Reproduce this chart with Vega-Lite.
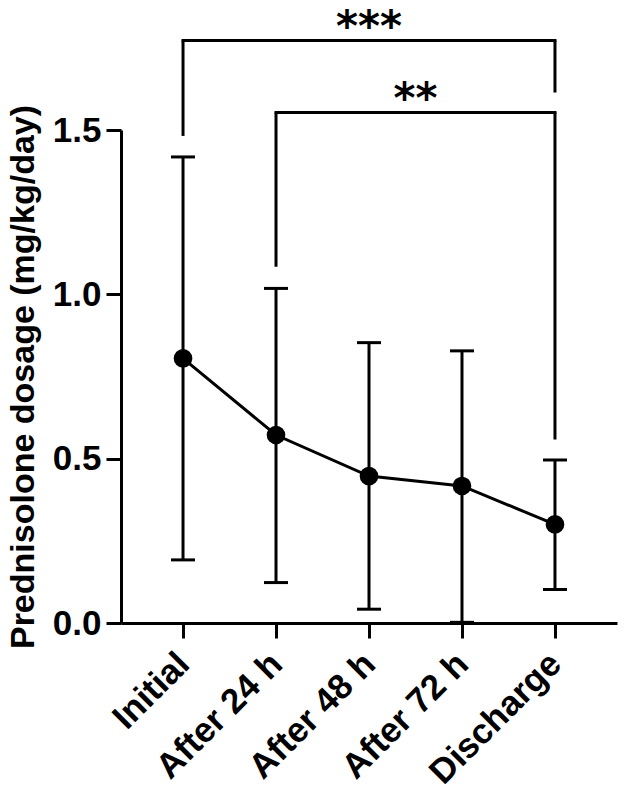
{
  "$schema": "https://vega.github.io/schema/vega-lite/v6.json",
  "autosize": {"type": "none"},
  "width": 496,
  "height": 493,
  "padding": {"left": 121, "top": 130, "right": 7, "bottom": 169},
  "background": "white",
  "config": {
    "view": {"stroke": null},
    "font": "Liberation Sans",
    "axis": {
      "domainColor": "black",
      "domainWidth": 3,
      "tickColor": "black",
      "tickWidth": 3,
      "tickSize": 15,
      "grid": false,
      "labelFont": "Liberation Sans",
      "labelFontWeight": "bold",
      "labelFontSize": 35,
      "labelColor": "black",
      "labelOverlap": false,
      "labelBound": false,
      "titleFont": "Liberation Sans",
      "titleFontWeight": "bold",
      "titleFontSize": 34,
      "titleColor": "black"
    }
  },
  "datasets": {
    "summary": [
      {"t": 1, "label": "Initial", "mean": 0.805, "lo": 0.192, "hi": 1.418},
      {"t": 2, "label": "After 24 h", "mean": 0.572, "lo": 0.123, "hi": 1.018},
      {"t": 3, "label": "After 48 h", "mean": 0.447, "lo": 0.042, "hi": 0.853},
      {"t": 4, "label": "After 72 h", "mean": 0.417, "lo": 0.002, "hi": 0.828},
      {"t": 5, "label": "Discharge", "mean": 0.300, "lo": 0.102, "hi": 0.496}
    ],
    "bars": [
      {"from": 1, "to": 5, "y": 1.772},
      {"from": 2, "to": 5, "y": 1.553}
    ],
    "legs": [
      {"t": 1, "y1": 1.482, "y2": 1.772},
      {"t": 5, "y1": 1.614, "y2": 1.772},
      {"t": 2, "y1": 1.084, "y2": 1.553},
      {"t": 5, "y1": 0.558, "y2": 1.553}
    ],
    "stars": [
      {"t": 3, "y": 1.772, "text": "***"},
      {"t": 3.5, "y": 1.553, "text": "**"}
    ]
  },
  "layer": [
    {
      "data": {"name": "summary"},
      "mark": {"type": "line", "color": "black", "strokeWidth": 3},
      "encoding": {
        "x": {
          "field": "t", "type": "quantitative",
          "scale": {"domain": [0.333, 5.667], "nice": false, "zero": false},
          "axis": {
            "values": [1, 2, 3, 4, 5],
            "labelExpr": "['', 'Initial', 'After 24 h', 'After 48 h', 'After 72 h', 'Discharge'][datum.value]",
            "labelAngle": -45,
            "labelAlign": "right",
            "labelBaseline": "middle",
            "labelPadding": 20,
            "title": null
          }
        },
        "y": {
          "field": "mean", "type": "quantitative",
          "scale": {"domain": [0, 1.5], "nice": false},
          "axis": {
            "values": [0, 0.5, 1, 1.5],
            "format": ".1f",
            "labelPadding": 5,
            "title": "Prednisolone dosage (mg/kg/day)",
            "titlePadding": 12
          }
        }
      }
    },
    {
      "data": {"name": "summary"},
      "mark": {"type": "rule", "color": "black", "strokeWidth": 3},
      "encoding": {
        "x": {"field": "t", "type": "quantitative"},
        "y": {"field": "lo", "type": "quantitative"},
        "y2": {"field": "hi"}
      }
    },
    {
      "data": {"name": "summary"},
      "mark": {"type": "tick", "color": "black", "size": 24, "thickness": 3, "orient": "horizontal", "opacity": 1},
      "encoding": {
        "x": {"field": "t", "type": "quantitative"},
        "y": {"field": "lo", "type": "quantitative"}
      }
    },
    {
      "data": {"name": "summary"},
      "mark": {"type": "tick", "color": "black", "size": 24, "thickness": 3, "orient": "horizontal", "opacity": 1},
      "encoding": {
        "x": {"field": "t", "type": "quantitative"},
        "y": {"field": "hi", "type": "quantitative"}
      }
    },
    {
      "data": {"name": "summary"},
      "mark": {"type": "point", "shape": "circle", "filled": true, "color": "black", "size": 346, "opacity": 1},
      "encoding": {
        "x": {"field": "t", "type": "quantitative"},
        "y": {"field": "mean", "type": "quantitative"}
      }
    },
    {
      "data": {"name": "bars"},
      "mark": {"type": "rule", "color": "black", "strokeWidth": 3, "strokeCap": "square"},
      "encoding": {
        "x": {"field": "from", "type": "quantitative"},
        "x2": {"field": "to"},
        "y": {"field": "y", "type": "quantitative"}
      }
    },
    {
      "data": {"name": "legs"},
      "mark": {"type": "rule", "color": "black", "strokeWidth": 3},
      "encoding": {
        "x": {"field": "t", "type": "quantitative"},
        "y": {"field": "y1", "type": "quantitative"},
        "y2": {"field": "y2"}
      }
    },
    {
      "data": {"name": "stars"},
      "mark": {"type": "text", "font": "DejaVu Sans", "fontWeight": "bold", "fontSize": 42, "color": "black", "align": "center", "baseline": "alphabetic", "dy": 0},
      "encoding": {
        "x": {"field": "t", "type": "quantitative"},
        "y": {"field": "y", "type": "quantitative"},
        "text": {"field": "text"}
      }
    }
  ]
}
